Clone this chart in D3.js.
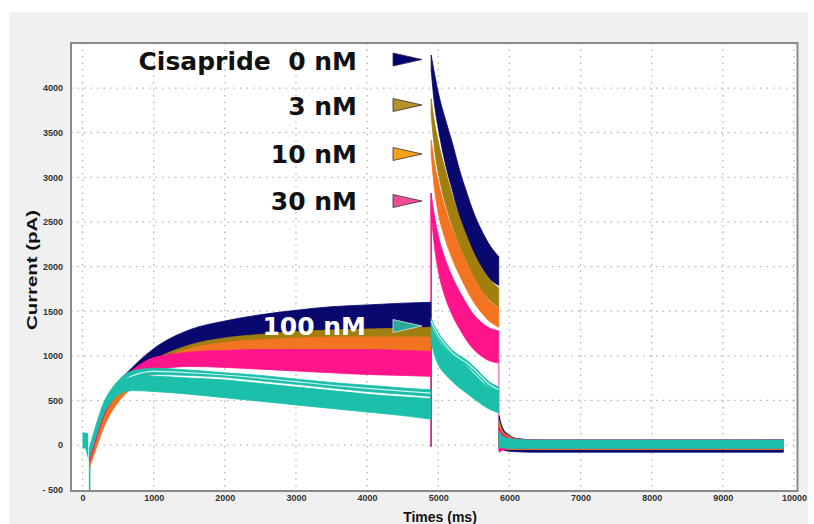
<!DOCTYPE html>
<html><head><meta charset="utf-8">
<script src="https://cdn.jsdelivr.net/npm/d3@7/dist/d3.min.js"></script>
<style>html,body{margin:0;padding:0;background:#fff;}svg{display:block;}</style>
</head><body>
<svg id="chart" width="814" height="524"></svg>
<script>
// ---------- data ----------
// three voltage-step phases: depolarising pulse, repolarising (tail) step, return to holding
const times = [100, 200, 300, 400, 500, 700, 1000, 1500, 2000, 2500, 3000, 3500, 4000, 4500, 4895,
  4900, 4950, 5000, 5100, 5200, 5300, 5400, 5500, 5600, 5700, 5850,
  5855, 5900, 6000, 6100, 6300, 6600, 7000, 8000, 9000, 9850];
const phaseStarts = [0, 15, 26];
const phaseEnds = [15, 26, 36];

const navyUpper = [-50, 200, 420, 580, 700, 870, 1080, 1290, 1390, 1460, 1510, 1550, 1570, 1590, 1600,
  4370, 4150, 3950, 3650, 3380, 3080, 2830, 2600, 2420, 2270, 2110,
  330, 200, 110, 75, 60, 55, 55, 55, 55, 60];
const navyLower = [-150, 80, 300, 460, 580, 740, 900, 1060, 1150, 1200, 1240, 1270, 1290, 1300, 1310,
  4200, 3800, 3550, 3150, 2850, 2550, 2300, 2120, 1990, 1880, 1790,
  -20, -50, -70, -75, -80, -80, -80, -80, -80, -80];

const oliveUpper = [-100, 120, 340, 500, 620, 780, 950, 1120, 1200, 1240, 1270, 1290, 1300, 1310, 1320,
  3880, 3600, 3400, 3080, 2800, 2550, 2340, 2150, 2000, 1880, 1760,
  280, 170, 100, 70, 55, 50, 50, 50, 50, 50];
const oliveLower = [-200, 20, 240, 400, 520, 680, 850, 990, 1060, 1100, 1120, 1140, 1160, 1180, 1200,
  3700, 3300, 3050, 2700, 2450, 2230, 2050, 1880, 1740, 1640, 1550,
  -20, -40, -50, -50, -50, -50, -50, -50, -50, -50];

const orangeUpper = [-150, 80, 300, 460, 580, 740, 920, 1080, 1150, 1180, 1200, 1210, 1210, 1210, 1210,
  3420, 3150, 2950, 2650, 2420, 2220, 2040, 1880, 1740, 1630, 1540,
  250, 150, 90, 65, 55, 50, 50, 50, 50, 50];
const orangeLower = [-250, -20, 200, 360, 480, 640, 800, 920, 970, 1000, 1010, 1020, 1030, 1035, 1040,
  3250, 2850, 2600, 2300, 2080, 1900, 1740, 1600, 1490, 1400, 1320,
  -20, -40, -50, -50, -50, -50, -50, -50, -50, -50];

const pinkUpper = [-80, 200, 440, 590, 700, 840, 980, 1040, 1060, 1070, 1070, 1070, 1070, 1060, 1050,
  2820, 2550, 2350, 2080, 1880, 1720, 1580, 1460, 1380, 1320, 1280,
  200, 130, 80, 65, 60, 60, 60, 60, 60, 60];
const pinkLower = [-180, 80, 320, 480, 580, 720, 840, 880, 870, 850, 830, 810, 790, 780, 770,
  2600, 2200, 1950, 1650, 1450, 1300, 1170, 1070, 1000, 950, 920,
  -80, -60, -40, -40, -40, -40, -40, -40, -40, -40];

const tealLinesUpper = [-30, 250, 480, 620, 720, 830, 860, 840, 810, 780, 740, 700, 670, 640, 620,
  1420, 1330, 1260, 1150, 1060, 1000, 950, 880, 800, 720, 650,
  150, 100, 70, 60, 55, 55, 55, 55, 55, 55];
const tealLinesLower = [-130, 150, 380, 520, 620, 720, 790, 780, 760, 720, 680, 640, 600, 570, 545,
  1360, 1270, 1200, 1090, 1000, 940, 890, 820, 740, 660, 590,
  -30, -30, -35, -35, -35, -35, -35, -35, -35, -35];

const tealUpper = [-30, 230, 460, 600, 690, 760, 770, 750, 730, 690, 650, 610, 570, 540, 520,
  1350, 1250, 1180, 1080, 1000, 940, 880, 800, 720, 650, 600,
  150, 100, 70, 60, 55, 55, 55, 55, 55, 55];
const tealLower = [-130, 120, 350, 480, 560, 610, 600, 570, 530, 490, 450, 410, 370, 330, 290,
  1150, 1000, 900, 790, 710, 640, 580, 520, 460, 410, 360,
  -30, -30, -35, -35, -35, -35, -35, -35, -35, -35];

// holding segment before the test pulse (100 nM sweeps)
const prepTimes = [0, 40, 80];
const prepUpper = [140, 140, 130];
const prepLower = [-40, -40, -160];

// capacitive transients
const transientTimes = [100, 4900, 4900, 5850];
const transientFrom = [-40, 1420, 2820, 920];
const transientTo = [-515, -20, -20, -60];
const transientSeries = [4, 4, 3, 3];

const xTicks = [0, 1000, 2000, 3000, 4000, 5000, 6000, 7000, 8000, 9000, 10000];
const yTicks = [-500, 0, 500, 1000, 1500, 2000, 2500, 3000, 3500, 4000];

const legendLabels = ["Cisapride  0 nM", "3 nM", "10 nM", "30 nM", "100 nM"];
const seriesColors = ["#08086e", "#a17f0e", "#f27420", "#ff148c", "#1bbfaa"];
const triangleColors = ["#000070", "#b8902a", "#f7a21b", "#f04c9c", "#2aa89a"];

// ---------- drawing ----------
const svg = d3.select("#chart");
const L = 71, R = 797.5, T = 43, B = 491;

svg.append("rect").attr("x", 9).attr("y", 12).attr("width", 799).attr("height", 512).attr("fill", "#f0f0f0");
svg.append("rect").attr("x", L).attr("y", T).attr("width", R - L).attr("height", B - T).attr("fill", "#fff");

const x = d3.scaleLinear().domain([-162, 10049]).range([L, R]);
const y = d3.scaleLinear().domain([-515, 4505]).range([B, T]);

// grid
const grid = svg.append("g").attr("stroke", "#b4b4b4").attr("stroke-width", 1.3).attr("stroke-dasharray", "1.5,5");
grid.selectAll("line.v").data(xTicks).join("line")
  .attr("x1", d => x(d)).attr("x2", d => x(d)).attr("y1", T).attr("y2", B);
grid.selectAll("line.h").data(yTicks.filter(d => d > -500)).join("line")
  .attr("x1", L).attr("x2", R).attr("y1", d => y(d)).attr("y2", d => y(d));

svg.append("clipPath").attr("id", "clip").append("rect")
  .attr("x", L).attr("y", T).attr("width", R - L).attr("height", B - T);
const plot = svg.append("g").attr("clip-path", "url(#clip)");

const bands = [
  [navyUpper, navyLower, 0],
  [oliveUpper, oliveLower, 1],
  [orangeUpper, orangeLower, 2],
  [pinkUpper, pinkLower, 3],
  [tealLinesUpper, tealLinesLower, 4],
  [tealUpper, tealLower, 4]
];
const area = d3.area().x(d => x(d.t)).y0(d => y(d.lo)).y1(d => y(d.hi)).curve(d3.curveMonotoneX);
const mid = d3.line().x(d => x(d.t)).y(d => y((d.hi + d.lo) / 2)).curve(d3.curveMonotoneX);

// transients behind bands
transientTimes.forEach((t, i) => {
  plot.append("line")
    .attr("x1", x(t)).attr("x2", x(t))
    .attr("y1", y(transientFrom[i])).attr("y2", y(transientTo[i]))
    .attr("stroke", i === 3 ? "#e88cc8" : seriesColors[transientSeries[i]])
    .attr("stroke-width", 1.6);
});

bands.forEach(([hi, lo, ci], bi) => {
  const pts = times.map((t, i) => ({t, hi: hi[i], lo: lo[i]}));
  phaseStarts.forEach((s, p) => {
    const seg = pts.slice(s, phaseEnds[p]);
    plot.append("path").datum(seg)
      .attr("d", area)
      .attr("fill", seriesColors[ci])
      .attr("stroke", seriesColors[ci]).attr("stroke-width", 0.8);
    if (bi === 4 && p < 2) {
      // white gap separating the thin teal sweeps
      plot.append("path").datum(seg).attr("d", mid)
        .attr("fill", "none").attr("stroke", "#fff").attr("stroke-width", 1.2).attr("opacity", 0.8);
    }
  });
});

// holding segment
plot.append("path")
  .datum(prepTimes.map((t, i) => ({t, hi: prepUpper[i], lo: prepLower[i]})))
  .attr("d", d3.area().x(d => x(d.t)).y0(d => y(d.lo)).y1(d => y(d.hi)))
  .attr("fill", seriesColors[4]);

// frame
svg.append("rect").attr("x", L).attr("y", T).attr("width", R - L).attr("height", B - T)
  .attr("fill", "none").attr("stroke", "#8a8a8a").attr("stroke-width", 2);

// axes
const xAxis = svg.append("g").attr("transform", `translate(0,${B})`)
  .call(d3.axisBottom(x).tickValues(xTicks).tickSize(0).tickPadding(4).tickFormat(d3.format("d")));
const yAxis = svg.append("g").attr("transform", `translate(${L},0)`)
  .call(d3.axisLeft(y).tickValues(yTicks).tickSize(0).tickPadding(8)
    .tickFormat(d => d < 0 ? "- " + Math.abs(d) : String(d)));
[xAxis, yAxis].forEach(a => {
  a.select(".domain").remove();
  a.selectAll("text").attr("font-family", "Liberation Sans, Arial, sans-serif")
    .attr("font-size", 9).attr("font-weight", "bold").attr("fill", "#333");
});

svg.append("text").attr("x", 440).attr("y", 522).attr("text-anchor", "middle")
  .attr("font-family", "Liberation Sans, Arial, sans-serif").attr("font-size", 14).attr("font-weight", "bold")
  .attr("fill", "#111").text("Times (ms)");
svg.append("text").attr("transform", "translate(37,270) rotate(-90)").attr("text-anchor", "middle")
  .attr("font-family", "Liberation Sans, Arial, sans-serif").attr("font-size", 14).attr("font-weight", "bold")
  .attr("fill", "#111").attr("textLength", 120).attr("lengthAdjust", "spacingAndGlyphs")
  .text("Current (pA)");

// legend
const legendY = [70, 115, 163, 210, 335];
const legendRight = [357, 357, 357, 357, 366];
const triY = [59.5, 105, 154, 201, 326];
legendLabels.forEach((lab, i) => {
  svg.append("text").attr("x", legendRight[i]).attr("y", legendY[i])
    .attr("text-anchor", "end").style("white-space", "pre")
    .attr("font-family", "DejaVu Sans, Verdana, sans-serif").attr("font-size", 25).attr("font-weight", "bold")
    .attr("fill", i === 4 ? "#fff" : "#111").text(lab);
  const cy = triY[i];
  svg.append("path")
    .attr("d", `M393,${cy - 6.5}L422,${cy}L393,${cy + 6.5}Z`)
    .attr("fill", triangleColors[i]).attr("stroke", i === 4 ? "#e0e0e0" : "#333").attr("stroke-width", 0.8);
});
</script>
</body></html>
